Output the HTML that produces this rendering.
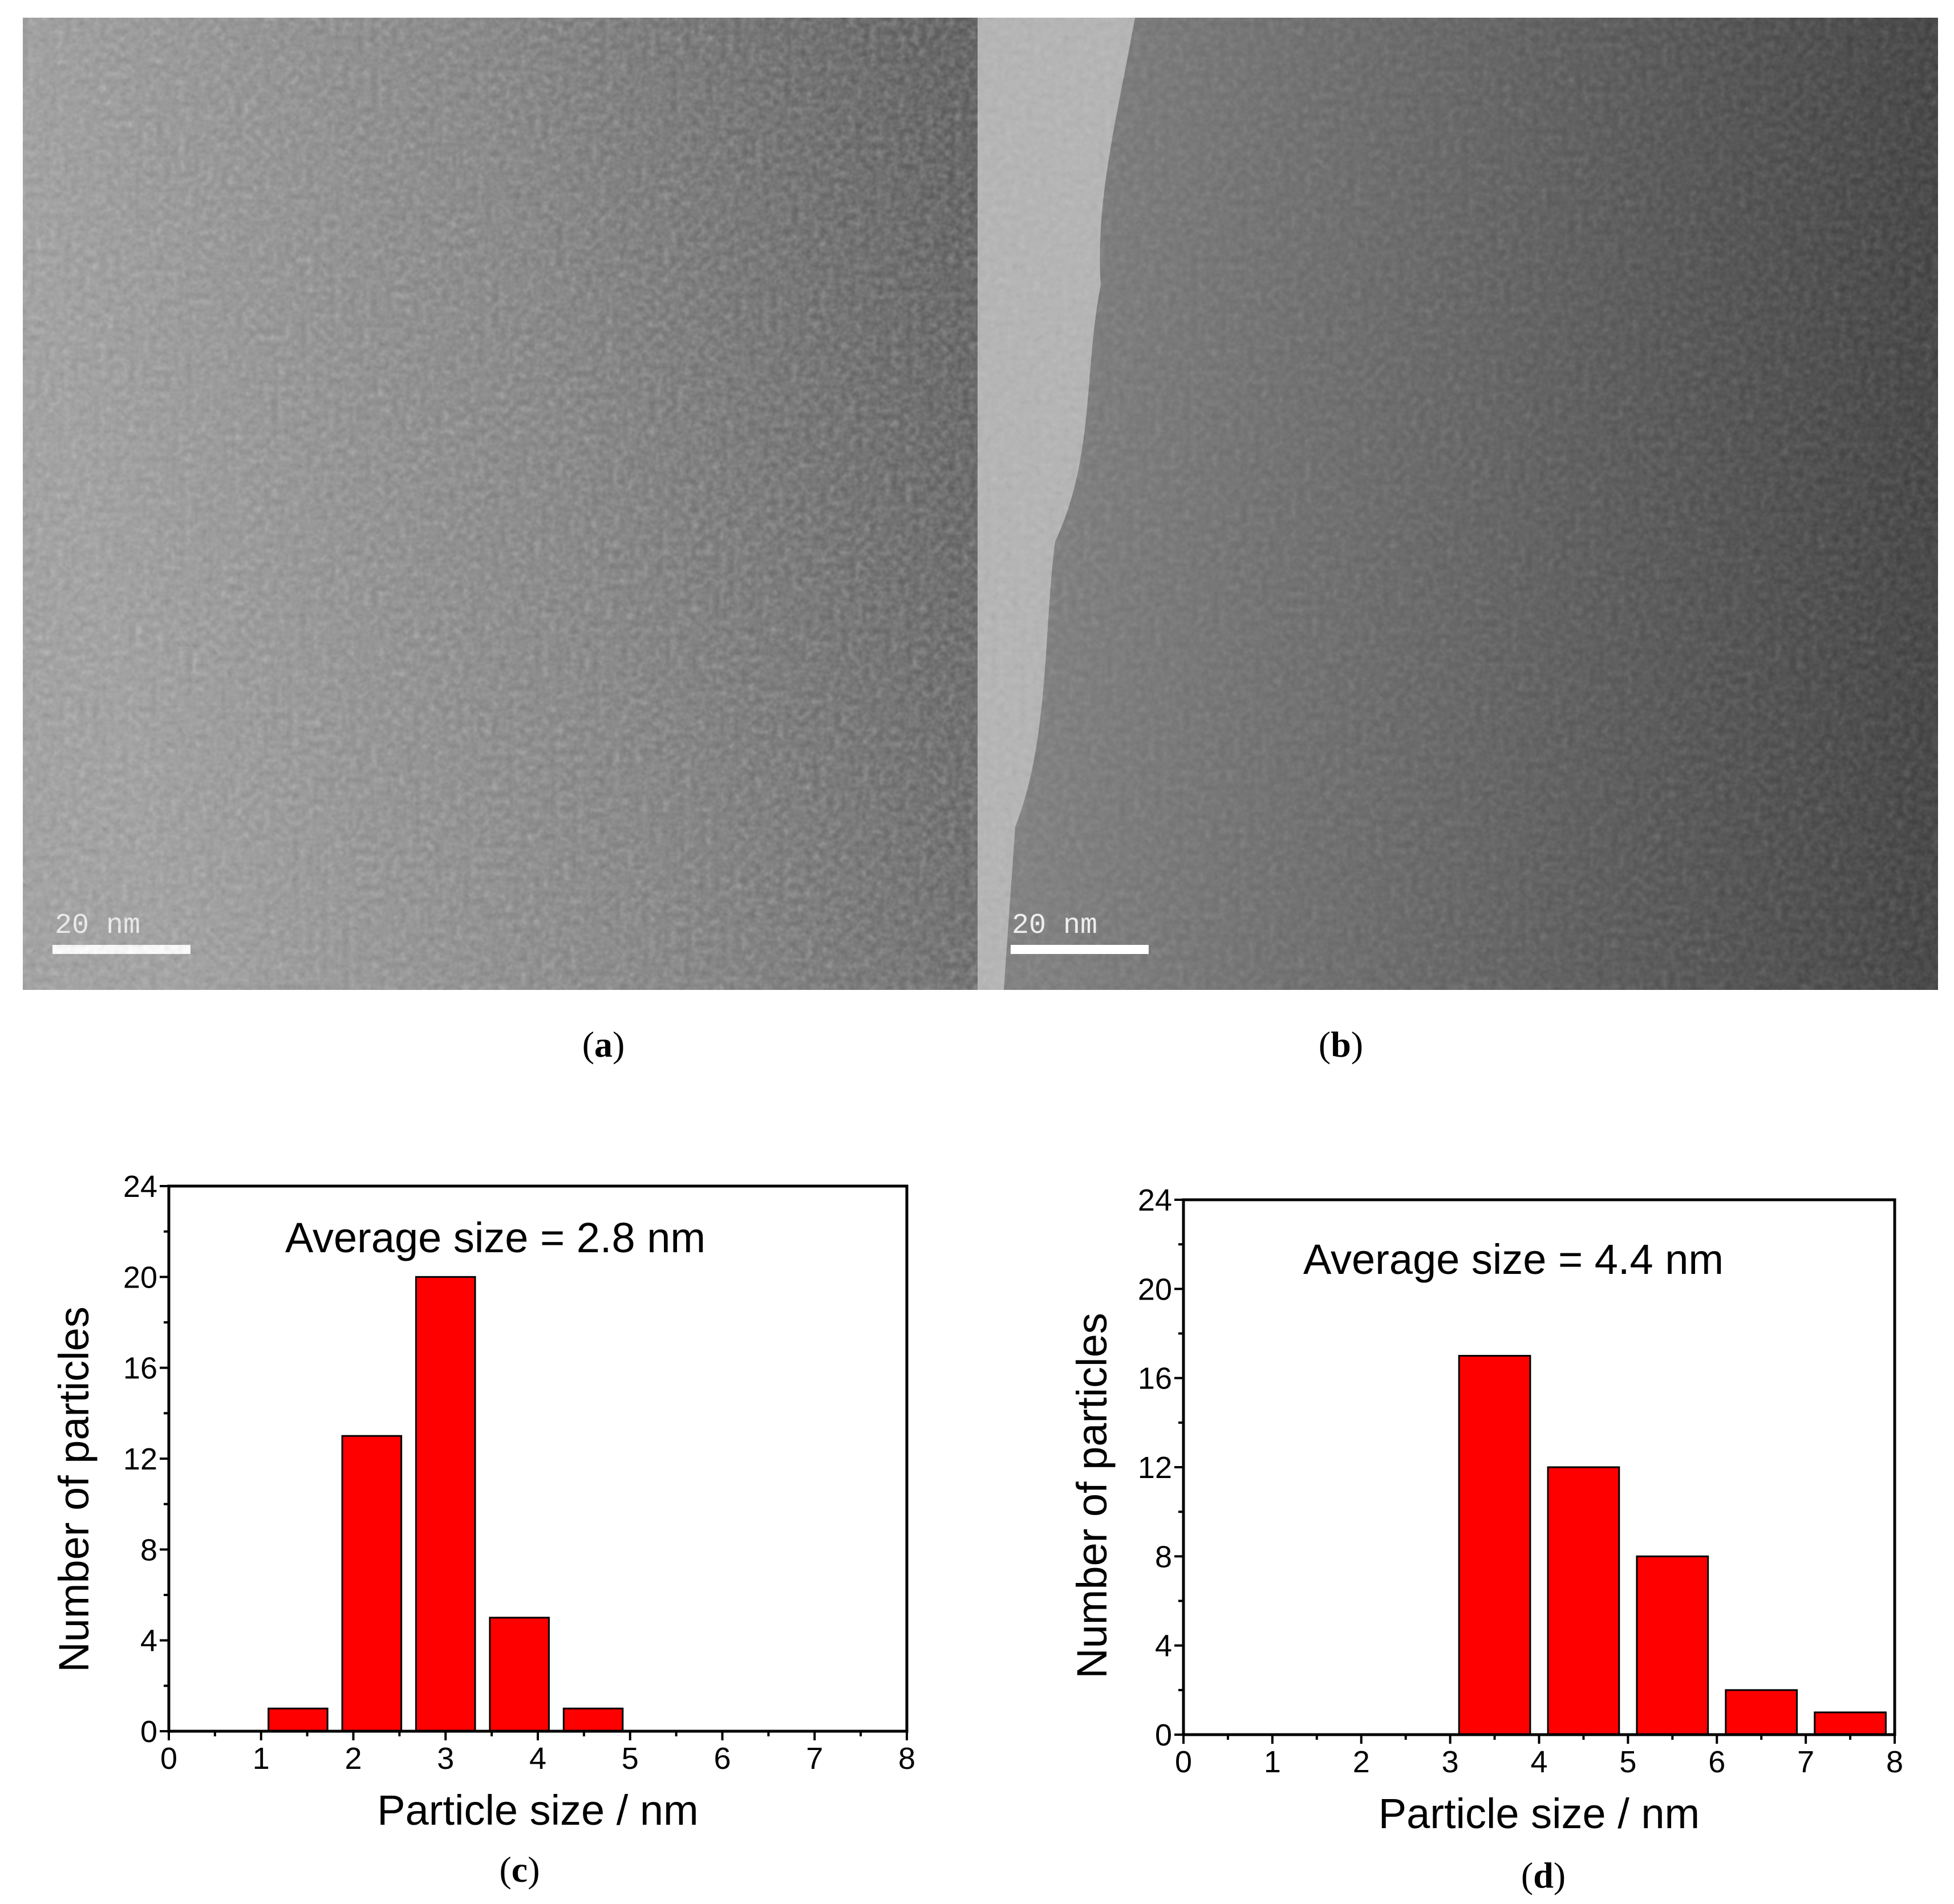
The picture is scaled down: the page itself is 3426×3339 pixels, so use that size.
<!DOCTYPE html>
<html><head><meta charset="utf-8">
<style>
html,body{margin:0;padding:0;background:#fff;}
svg{display:block;}
.tk{font-family:"Liberation Sans Narrow","Liberation Sans",sans-serif;font-size:54px;fill:#000;}
.tt{font-family:"Liberation Sans Narrow","Liberation Sans",sans-serif;font-size:74px;fill:#000;}
.pl{font-family:"Liberation Serif",serif;font-size:64px;fill:#000;}
</style></head>
<body>
<svg id="fig" width="3426" height="3339" viewBox="0 0 3426 3339" xmlns="http://www.w3.org/2000/svg">
<defs>
<linearGradient id="ga" x1="0" y1="0.2" x2="1" y2="0">
<stop offset="0" stop-color="#9c9c9c"/><stop offset="0.5" stop-color="#7c7c7c"/><stop offset="1" stop-color="#4e4e4e"/>
</linearGradient>
<linearGradient id="gb" x1="0" y1="0" x2="1" y2="0">
<stop offset="0" stop-color="#7e7e7e"/><stop offset="0.5" stop-color="#5e5e5e"/><stop offset="1" stop-color="#3a3a3a"/>
</linearGradient>
<filter id="noise" filterUnits="userSpaceOnUse" x="40" y="31" width="3358" height="1705"><feTurbulence type="fractalNoise" baseFrequency="0.08" numOctaves="2" seed="3"/><feColorMatrix type="saturate" values="0"/><feComponentTransfer><feFuncA type="table" tableValues="0 0.25"/></feComponentTransfer></filter>
</defs>
<g>
<rect x="40" y="31" width="1674" height="1705" fill="url(#ga)"/>
<rect x="40" y="31" width="1674" height="1705" filter="url(#noise)"/>
<rect x="92" y="1657" width="242" height="16" fill="#fff"/>
<text x="96" y="1636" font-family="Liberation Mono,monospace" font-size="50" fill="#eee">20 nm</text>
</g>
<g>
<rect x="1714" y="31" width="1684" height="1705" fill="url(#gb)"/>
<path d="M1714 31 L1990 31 C1960 200 1920 350 1930 500 C1900 650 1920 800 1850 950 C1830 1100 1840 1300 1780 1450 L1760 1736 L1714 1736 Z" fill="#b4b4b4"/>
<rect x="1714" y="31" width="1684" height="1705" filter="url(#noise)"/>
<rect x="1772" y="1657" width="242" height="16" fill="#fff"/>
<text x="1774" y="1636" font-family="Liberation Mono,monospace" font-size="50" fill="#eee">20 nm</text>
</g>
<text class="pl" x="1058" y="1853" text-anchor="middle">(<tspan font-weight="bold">a</tspan>)</text>
<text class="pl" x="2351" y="1853" text-anchor="middle">(<tspan font-weight="bold">b</tspan>)</text>
<text class="pl" x="911" y="3300" text-anchor="middle">(<tspan font-weight="bold">c</tspan>)</text>
<text class="pl" x="2706" y="3310" text-anchor="middle">(<tspan font-weight="bold">d</tspan>)</text>
</svg>
<script>
const xTicks=[0,1,2,3,4,5,6,7,8];
const yTicks=[0,4,8,12,16,20,24];
const cCenters=[1.4,2.2,3.0,3.8,4.6];
const cCounts=[1,13,20,5,1];
const dCenters=[3.5,4.5,5.5,6.5,7.5];
const dCounts=[17,12,8,2,1];
const cAvg="Average size = 2.8 nm";
const dAvg="Average size = 4.4 nm";
const NS="http://www.w3.org/2000/svg";
const svg=document.getElementById('fig');
function mk(t,a,p){const e=document.createElementNS(NS,t);for(const k in a)e.setAttribute(k,a[k]);(p||svg).appendChild(e);return e;}
function chart(id,L,R,T,B,centers,counts,barW,avg,avgX,avgY,ytX,ytY,xtY){
  const g=mk('g',{});
  
  
  const xs=v=>L+(R-L)*v/8, ys=v=>B-(B-T)*v/24;
  centers.forEach((c,i)=>{
    const r=mk('rect',{x:xs(c-barW/2),y:ys(counts[i]),width:xs(c+barW/2)-xs(c-barW/2),height:B-ys(counts[i]),fill:'#ff0000',stroke:'#000','stroke-width':3},g);
    
    
  });
  const fr=mk('rect',{x:L,y:T,width:R-L,height:B-T,fill:'none',stroke:'#000','stroke-width':5},g);
  
  
  for(let v=0;v<=8;v+=0.5){const maj=Number.isInteger(v);mk('line',{x1:xs(v),x2:xs(v),y1:B,y2:B+(maj?16:9),stroke:'#000','stroke-width':4},g);}
  for(let v=0;v<=24;v+=2){const maj=v%4===0;mk('line',{x1:L,x2:L-(maj?16:9),y1:ys(v),y2:ys(v),stroke:'#000','stroke-width':4},g);}
  xTicks.forEach(v=>{const t=mk('text',{x:xs(v),y:B+66,'text-anchor':'middle',class:'tk'},g);t.textContent=v;
    
    });
  yTicks.forEach(v=>{const t=mk('text',{x:L-20,y:ys(v)+19,'text-anchor':'end',class:'tk'},g);t.textContent=v;
    
    });
  const a=mk('text',{x:avgX,y:avgY,class:'tt'},g);a.textContent=avg;
  
  
  const xt=mk('text',{x:(L+R)/2,y:xtY,'text-anchor':'middle',class:'tt'},g);xt.textContent='Particle size / nm';
  
  
  const yt=mk('text',{x:ytX,y:ytY,'text-anchor':'middle',class:'tt',transform:`rotate(-90 ${ytX} ${ytY})`},g);yt.textContent='Number of particles';
  
  
}
chart('c',296,1590,2080,3036,cCenters,cCounts,0.64,cAvg,500,2196,155,2612,3200);
chart('d',2075,3322,2104,3042,dCenters,dCounts,0.8,dAvg,2285,2234,1940,2623,3206);
</script>
</body></html>
